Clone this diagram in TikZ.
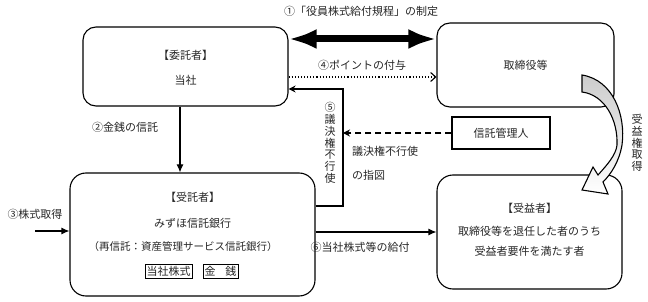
\documentclass[tikz,border=0pt]{standalone}
\usepackage{fontspec}
\newfontfamily\jp{Noto Sans CJK JP}
\usetikzlibrary{arrows.meta,calc}
\begin{document}
\begin{tikzpicture}[x=1pt,y=-1pt,
  every node/.style={font=\jp\fontsize{11}{12}\selectfont, inner sep=0pt, text=black!85},
  bigbox/.style={draw, line width=1.1pt, rounded corners=13pt},
  plainbox/.style={draw, line width=1.1pt},
  smallbox/.style={draw, line width=0.7pt, inner xsep=1.5pt, inner ysep=2pt},
  vtext/.style={align=center, font=\jp\fontsize{11}{11.8}\selectfont},
  conn/.style={line width=1.1pt},
  tipL/.style={-{Latex[length=8pt,width=7pt]}},
]
\useasboundingbox (0,0) rectangle (648,302);

% boxes
\node[bigbox, minimum width=205pt, minimum height=79pt] (itaku) at (185.5,66.5) {};
\node[bigbox, minimum width=177pt, minimum height=84pt] (tori) at (525.5,65) {};
\node[bigbox, rounded corners=16pt, minimum width=245pt, minimum height=123pt] (jutaku) at (192.5,234.5) {};
\node[bigbox, rounded corners=16pt, minimum width=185pt, minimum height=114pt] (juek) at (529.5,232) {};
\node[plainbox, minimum width=98pt, minimum height=32pt] (kanri) at (501,133) {信託管理人};

% box texts
\node (t1) at (185.5,55) {【委託者】};
\node (t2) at (185.5,80) {当社};
\node (t3) at (525.5,65) {取締役等};
\node (t4) at (192.5,197) {【受託者】};
\node (t5) at (192.5,223) {みずほ信託銀行};
\node[font=\jp\fontsize{10.5}{12}\selectfont] (t6) at (183,247) {（再信託：資産管理サービス信託銀行）};
\node[smallbox] (t7) at (168.5,271.5) {当社株式};
\node[smallbox] (t8) at (220.5,271.5) {金\hspace{0.9em}銭};
\node (t9) at (529.5,208) {【受益者】};
\node (t10) at (529.5,231) {取締役等を退任した者のうち};
\node (t11) at (529.5,251) {受益者要件を満たす者};

% labels
\node (l1) at (361,11) {①「役員株式給付規程」の制定};
\node (l4) at (362,65) {④ポイントの付与};
\node (l2) at (125,127) {②金銭の信託};
\node (l3) at (35,214) {③株式取得};
\node (l6) at (360,247) {⑥当社株式等の給付};
\node[anchor=west] (l7) at (352,151) {議決権不行使};
\node[anchor=west] (l8) at (352,175) {の指図};
\node[vtext] (l5) at (330,143) {⑤\\議\\決\\権\\不\\行\\使};
\node[vtext] (l9) at (637,143) {受\\益\\権\\取\\得};

% coordinates
\coordinate (yA) at (0,39);
\coordinate (yB) at (0,77);
\coordinate (v5t) at (343,89);
\coordinate (v5b) at (343,206);
\coordinate (c2) at (180,0);
\coordinate (s3) at (35,231);
\coordinate (y6) at (0,232);

% connectors
\draw[line width=7pt, {Latex[length=28pt,width=20pt]}-{Latex[length=28pt,width=20pt]}]
  (itaku.east |- yA) -- (tori.west |- yA);
\draw[dotted, line width=1.1pt, -{Straight Barb[length=5pt,width=9pt]}]
  (itaku.east |- yB) -- (tori.west |- yB);
\draw[conn, -{Stealth[length=7pt,width=7pt]}]
  (jutaku.east |- v5b) -- (v5b) -- (v5t) -- (itaku.east |- v5t);
\draw[line width=1.3pt, dash pattern=on 6pt off 4pt, -{Stealth[length=7pt,width=7pt]}]
  (kanri.west) -- (v5t |- kanri.west);
\draw[conn, tipL] (itaku.south -| c2) -- (jutaku.north -| c2);
\draw[conn, tipL] (s3) -- (jutaku.west |- s3);
\draw[conn, tipL] (jutaku.east |- y6) -- (juek.west |- y6);

% curved arrow
\shade[draw=black, line width=1.1pt, line join=miter, top color=gray!40, middle color=gray!35, bottom color=white]
  (582,75) .. controls (613,80) and (626,115) .. (622,145)
  .. controls (619,162) and (611,174) .. (603,182)
  -- (608,194) -- (582,190) -- (593,167) -- (598,175)
  .. controls (607,165) and (616,155) .. (617,145)
  .. controls (618,120) and (605,95) .. (582,92) -- cycle;
\end{tikzpicture}
\end{document}
